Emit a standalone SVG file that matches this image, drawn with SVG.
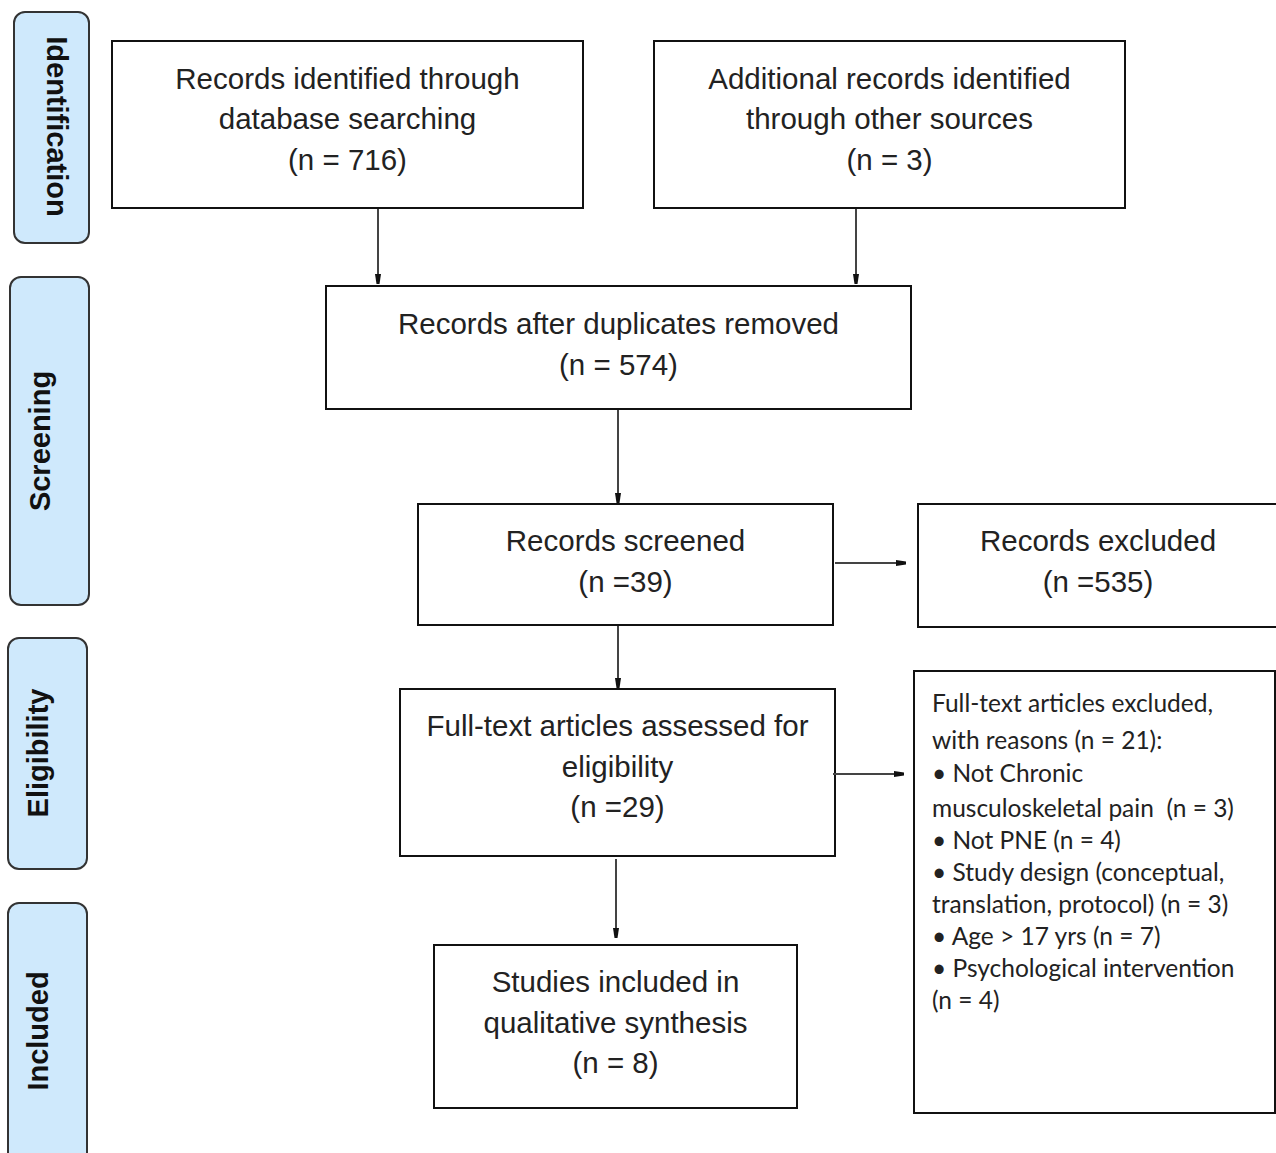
<svg xmlns="http://www.w3.org/2000/svg" width="1276" height="1153" viewBox="0 0 1276 1153">
<style>
.side{fill:#cfe9fc;stroke:#333;stroke-width:2}
.sl{font-family:"Liberation Sans",Arial,sans-serif;font-weight:bold;font-size:29px;fill:#111;text-anchor:middle}
.box{fill:#fff;stroke:#111;stroke-width:2}
.t{font-family:"Liberation Sans",Arial,sans-serif;font-size:29.5px;fill:#222;text-anchor:middle}
.c{font-family:Lato,"Noto Sans",sans-serif;font-size:24.5px;fill:#222;white-space:pre}
.conn line{stroke:#444;stroke-width:2;fill:none}
</style>
<defs>
<marker id="ah" markerUnits="userSpaceOnUse" markerWidth="12" markerHeight="10" viewBox="0 -5 12 10" refX="10" refY="0" orient="auto">
<path d="M0,-3 L10,-1.5 L10,1.5 L0,3 Z" fill="#111"/>
</marker>
</defs>
<rect width="1276" height="1153" fill="#fff"/>
<g id="stage-identification">
<rect class="side" x="14" y="12" width="75" height="231" rx="11"/>
<text class="sl" transform="translate(47,126.5) rotate(90)">Identification</text>
</g>
<g id="stage-screening">
<rect class="side" x="10" y="277" width="79" height="328" rx="11"/>
<text class="sl" transform="translate(50,441) rotate(-90)">Screening</text>
</g>
<g id="stage-eligibility">
<rect class="side" x="8" y="638" width="79" height="231" rx="11"/>
<text class="sl" transform="translate(48,753) rotate(-90)">Eligibility</text>
</g>
<g id="stage-included">
<rect class="side" x="8" y="903" width="79" height="270" rx="11"/>
<text class="sl" transform="translate(48,1031) rotate(-90)">Included</text>
</g>
<g id="n-db">
<rect class="box" x="112" y="41" width="471" height="167"/>
<text class="t" x="347.5" y="88.5">Records identified through</text>
<text class="t" x="347.5" y="129">database searching</text>
<text class="t" x="347.5" y="169.5">(n = 716)</text>
</g>
<g id="n-other">
<rect class="box" x="654" y="41" width="471" height="167"/>
<text class="t" x="889.5" y="88.5">Additional records identified</text>
<text class="t" x="889.5" y="129">through other sources</text>
<text class="t" x="889.5" y="169.5">(n = 3)</text>
</g>
<g id="n-dup">
<rect class="box" x="326" y="286" width="585" height="123"/>
<text class="t" x="618.5" y="333.5">Records after duplicates removed</text>
<text class="t" x="618.5" y="374.5">(n = 574)</text>
</g>
<g id="n-screened">
<rect class="box" x="418" y="504" width="415" height="121"/>
<text class="t" x="625.5" y="550.5">Records screened</text>
<text class="t" x="625.5" y="591.5">(n =39)</text>
</g>
<g id="n-excluded">
<rect class="box" x="918" y="504" width="360" height="123"/>
<text class="t" x="1098" y="550.5">Records excluded</text>
<text class="t" x="1098" y="591.5">(n =535)</text>
</g>
<g id="n-fulltext">
<rect class="box" x="400" y="689" width="435" height="167"/>
<text class="t" x="617.5" y="735.5">Full-text articles assessed for</text>
<text class="t" x="617.5" y="776.5">eligibility</text>
<text class="t" x="617.5" y="816.5">(n =29)</text>
</g>
<g id="n-reasons">
<rect class="box" x="914" y="671" width="361" height="442"/>
<text class="c" x="932" y="712">Full-text articles excluded,</text>
<text class="c" x="932" y="749">with reasons (n = 21):</text>
<text class="c" x="932" y="782">• Not Chronic</text>
<text class="c" x="932" y="817">musculoskeletal pain  (n = 3)</text>
<text class="c" x="932" y="849">• Not PNE (n = 4)</text>
<text class="c" x="932" y="881">• Study design (conceptual,</text>
<text class="c" x="932" y="913">translation, protocol) (n = 3)</text>
<text class="c" x="932" y="945">• Age &gt; 17 yrs (n = 7)</text>
<text class="c" x="932" y="977">• Psychological intervention</text>
<text class="c" x="932" y="1009">(n = 4)</text>
</g>
<g id="n-included">
<rect class="box" x="434" y="945" width="363" height="163"/>
<text class="t" x="615.5" y="991.5">Studies included in</text>
<text class="t" x="615.5" y="1032.5">qualitative synthesis</text>
<text class="t" x="615.5" y="1072.5">(n = 8)</text>
</g>
<g id="connectors" class="conn">
<line x1="378" y1="209" x2="378" y2="284" marker-end="url(#ah)"/>
<line x1="856" y1="209" x2="856" y2="284" marker-end="url(#ah)"/>
<line x1="618" y1="410" x2="618" y2="503" marker-end="url(#ah)"/>
<line x1="835" y1="563" x2="906" y2="563" marker-end="url(#ah)"/>
<line x1="618" y1="626" x2="618" y2="688" marker-end="url(#ah)"/>
<line x1="833" y1="774" x2="904" y2="774" marker-end="url(#ah)"/>
<line x1="616" y1="859" x2="616" y2="938" marker-end="url(#ah)"/>
</g>
</svg>
